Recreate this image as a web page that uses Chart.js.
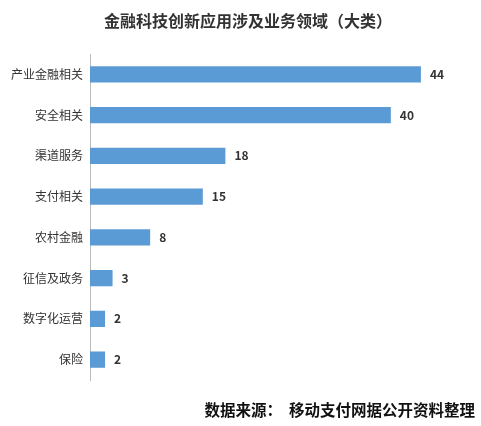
<!DOCTYPE html>
<html><head><meta charset="utf-8">
<script src="https://cdn.jsdelivr.net/npm/chart.js@4/dist/chart.umd.min.js"></script>
<style>html,body{margin:0;padding:0;background:#fff;}#w{width:481px;height:426px;position:relative;}</style>
</head><body><div id="w"><canvas id="c" width="481" height="426"></canvas></div>
<script>
const categories=["产业金融相关","安全相关","渠道服务","支付相关","农村金融","征信及政务","数字化运营","保险"];
const values=[44,40,18,15,8,3,2,2];
const titleText='金融科技创新应用涉及业务领域（大类）';
const sourceText='数据来源：  移动支付网据公开资料整理';
const font="'Noto Sans CJK SC', sans-serif";
const labels={id:'lbl',afterDatasetsDraw(ch){const c=ch.ctx;const m=ch.getDatasetMeta(0);c.save();c.font="bold 12px "+font;c.fillStyle="#333";c.textBaseline="middle";m.data.forEach((b,i)=>{c.fillText(values[i],b.x+9,b.y);});
c.font="bold 16px "+font;c.textAlign="center";c.fillStyle="#333";c.fillText(titleText,248,21);
c.font="bold 15.5px "+font;c.textAlign="right";c.fillStyle="#111";c.fillText(sourceText,475,410);c.restore();}};
new Chart(document.getElementById('c'),{type:'bar',
data:{labels:categories,datasets:[{data:values,backgroundColor:'#5b9bd5',barPercentage:0.4,categoryPercentage:1}]},
options:{indexAxis:'y',responsive:false,animation:false,
layout:{padding:{left:4,right:30,top:54,bottom:46}},
plugins:{legend:{display:false},tooltip:{enabled:false}},
scales:{x:{min:0,max:48,display:false},
y:{grid:{display:false,drawTicks:false},border:{display:true,color:'#bbb'},ticks:{font:{family:font,size:12},color:'#333',padding:7}}}},
plugins:[labels]});
</script></body></html>
